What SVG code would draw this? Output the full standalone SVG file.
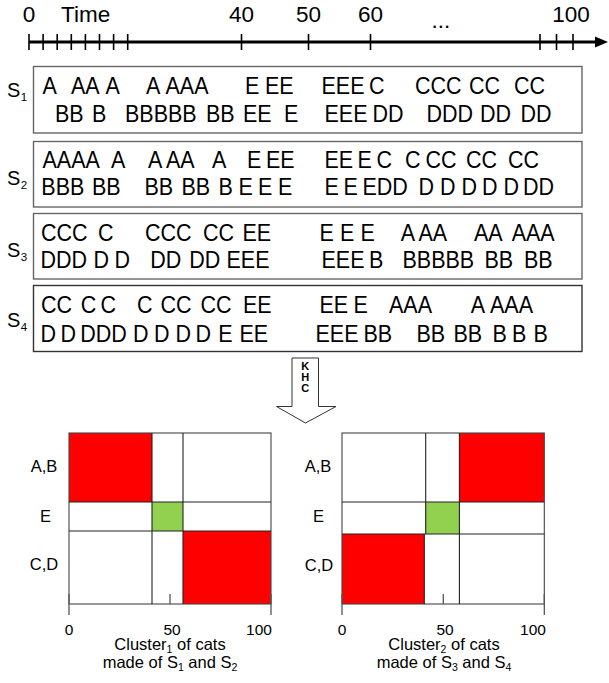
<svg xmlns="http://www.w3.org/2000/svg" width="609" height="683" viewBox="0 0 609 683">
<style>
text{font-family:"Liberation Sans",Arial,Helvetica,sans-serif;fill:#000}
.seq{font-size:21.5px}
.tl{font-size:22.5px}
.sl{font-size:20px}
.sub{font-size:11.5px}
.ml{font-size:16.5px;text-anchor:middle}
.ax{font-size:15.5px;text-anchor:middle}
.cap{font-size:16.5px;text-anchor:middle}
.box{fill:#fff;stroke:#666;stroke-width:1.4}
.tick{stroke:#000;stroke-width:1.6}
.grid{stroke:#222;stroke-width:1.1;fill:none}
.red{fill:#ff0000}
.grn{fill:#92d050}
.atk{stroke:#555;stroke-width:1.3}
</style>

<g id="timeline">
<line x1="29" y1="42" x2="598" y2="42" stroke="#000" stroke-width="2.8"/>
<polygon points="595,36.5 608,42 595,47.5" fill="#000"/>
<g class="tick">
<line x1="29" y1="34" x2="29" y2="50"/><line x1="43.1" y1="34" x2="43.1" y2="50"/>
<line x1="57.2" y1="34" x2="57.2" y2="50"/><line x1="71.3" y1="34" x2="71.3" y2="50"/>
<line x1="85.4" y1="34" x2="85.4" y2="50"/><line x1="99.5" y1="34" x2="99.5" y2="50"/>
<line x1="113.6" y1="34" x2="113.6" y2="50"/><line x1="127.7" y1="34" x2="127.7" y2="50"/>
<line x1="241.5" y1="34" x2="241.5" y2="50"/><line x1="308.5" y1="34" x2="308.5" y2="50"/>
<line x1="370.5" y1="34" x2="370.5" y2="50"/>
<line x1="540" y1="34" x2="540" y2="50"/><line x1="556.5" y1="34" x2="556.5" y2="50"/>
<line x1="573" y1="34" x2="573" y2="50"/>
</g>
<text class="tl" x="29" y="22" text-anchor="middle">0</text>
<text class="tl" x="61" y="22">Time</text>
<text class="tl" x="241.5" y="22" text-anchor="middle">40</text>
<text class="tl" x="308.5" y="22" text-anchor="middle">50</text>
<text class="tl" x="370.5" y="22" text-anchor="middle">60</text>
<text class="tl" x="441" y="28" text-anchor="middle">...</text>
<text class="tl" x="571" y="22" text-anchor="middle">100</text>
</g>

<g id="s1">
<rect class="box" x="33.5" y="66.5" width="548.5" height="66.5"/>
<text class="sl" x="7" y="97">S<tspan class="sub" dx="0.5" dy="3.5">1</tspan></text>
<text class="seq" transform="translate(0 94) scale(1 1.07)"><tspan x="42.5">A</tspan><tspan x="71">AA</tspan><tspan x="105.5">A</tspan><tspan x="146">A</tspan><tspan x="165.5">AAA</tspan><tspan x="245">E</tspan><tspan x="265">EE</tspan><tspan x="321.5">EEE</tspan><tspan x="369">C</tspan><tspan x="415">CCC</tspan><tspan x="469">CC</tspan><tspan x="514">CC</tspan></text>
<text class="seq" transform="translate(0 122) scale(1 1.07)"><tspan x="55">BB</tspan><tspan x="92">B</tspan><tspan x="125">BBBBB</tspan><tspan x="206">BB</tspan><tspan x="243">EE</tspan><tspan x="284">E</tspan><tspan x="324.5">EEE</tspan><tspan x="372.5">DD</tspan><tspan x="426.5">DDD</tspan><tspan x="480">DD</tspan><tspan x="520.5">DD</tspan></text>
</g>

<g id="s2">
<rect class="box" x="33.5" y="141.5" width="548.5" height="65.5"/>
<text class="sl" x="7" y="185">S<tspan class="sub" dx="0.5" dy="3.5">2</tspan></text>
<text class="seq" transform="translate(0 168) scale(1 1.07)"><tspan x="42.5">AAAA</tspan><tspan x="111">A</tspan><tspan x="148">A</tspan><tspan x="166">AA</tspan><tspan x="212">A</tspan><tspan x="247">E</tspan><tspan x="266">EE</tspan><tspan x="324.5">EE</tspan><tspan x="357.5">E</tspan><tspan x="376.5">C</tspan><tspan x="405">C</tspan><tspan x="425.5">CC</tspan><tspan x="466">CC</tspan><tspan x="508">CC</tspan></text>
<text class="seq" transform="translate(0 195) scale(1 1.07)"><tspan x="41.3">BBB</tspan><tspan x="91.9">BB</tspan><tspan x="144.5">BB</tspan><tspan x="181.5">BB</tspan><tspan x="218.5">B</tspan><tspan x="238.5">E</tspan><tspan x="258">E</tspan><tspan x="277.9">E</tspan><tspan x="324.5">E</tspan><tspan x="343.5">E</tspan><tspan x="362.5">EDD</tspan><tspan x="418.5">D</tspan><tspan x="440">D</tspan><tspan x="461.5">D</tspan><tspan x="482">D</tspan><tspan x="503.5">D</tspan><tspan x="523">DD</tspan></text>
</g>

<g id="s3">
<rect class="box" x="33.5" y="213.5" width="548.5" height="65.5"/>
<text class="sl" x="7" y="257">S<tspan class="sub" dx="0.5" dy="3.5">3</tspan></text>
<text class="seq" transform="translate(0 241) scale(1 1.07)"><tspan x="41">CCC</tspan><tspan x="98">C</tspan><tspan x="145">CCC</tspan><tspan x="203">CC</tspan><tspan x="242.5">EE</tspan><tspan x="319.5">E</tspan><tspan x="340">E</tspan><tspan x="360.5">E</tspan><tspan x="400.8">A</tspan><tspan x="418.5">AA</tspan><tspan x="474">AA</tspan><tspan x="511.7">AAA</tspan></text>
<text class="seq" transform="translate(0 268) scale(1 1.07)"><tspan x="40.5">DDD</tspan><tspan x="93.5">D</tspan><tspan x="114.5">D</tspan><tspan x="150.3">DD</tspan><tspan x="189.2">DD</tspan><tspan x="226.5">EEE</tspan><tspan x="321.5">EEE</tspan><tspan x="369">B</tspan><tspan x="402.5">BBBBB</tspan><tspan x="484.5">BB</tspan><tspan x="524">BB</tspan></text>
</g>

<g id="s4">
<rect class="box" x="33.5" y="285.5" width="548.5" height="66" style="stroke:#333"/>
<text class="sl" x="7" y="327">S<tspan class="sub" dx="0.5" dy="3.5">4</tspan></text>
<text class="seq" transform="translate(0 313) scale(1 1.07)"><tspan x="41">CC</tspan><tspan x="80.7">C</tspan><tspan x="100.5">C</tspan><tspan x="137">C</tspan><tspan x="160.5">CC</tspan><tspan x="200.6">CC</tspan><tspan x="243">EE</tspan><tspan x="319.5">EE</tspan><tspan x="353.5">E</tspan><tspan x="389">AAA</tspan><tspan x="470.8">A</tspan><tspan x="490">AAA</tspan></text>
<text class="seq" transform="translate(0 341.5) scale(1 1.07)"><tspan x="40.5">D</tspan><tspan x="60.5">D</tspan><tspan x="80.2">DDD</tspan><tspan x="133">D</tspan><tspan x="154.1">D</tspan><tspan x="175.5">D</tspan><tspan x="195.5">D</tspan><tspan x="218.3">E</tspan><tspan x="239.5">EE</tspan><tspan x="315.5">EEE</tspan><tspan x="363.5">BB</tspan><tspan x="416.5">BB</tspan><tspan x="453.5">BB</tspan><tspan x="492.5">B</tspan><tspan x="512">B</tspan><tspan x="533.5">B</tspan></text>
</g>

<g id="khc">
<polygon points="292,358 318.5,358 318.5,406.5 336,406.5 305.5,423 276.5,406.5 292,406.5" fill="#fff" stroke="#333" stroke-width="1"/>
<text x="305.3" y="370" font-size="11" font-weight="bold" text-anchor="middle">K</text>
<text x="305.3" y="381" font-size="11" font-weight="bold" text-anchor="middle">H</text>
<text x="305.3" y="392" font-size="11" font-weight="bold" text-anchor="middle">C</text>
</g>

<g id="cluster1">
<rect x="69" y="433" width="202" height="171" fill="#fff"/>
<rect class="red" x="69" y="433" width="83" height="69"/>
<rect class="grn" x="152" y="502" width="31" height="29"/>
<rect class="red" x="183" y="531" width="88" height="73"/>
<g class="grid">
<rect x="69" y="433" width="202" height="171" stroke="#444"/>
<line x1="69" y1="502" x2="271" y2="502"/><line x1="69" y1="531" x2="271" y2="531"/>
<line x1="152" y1="433" x2="152" y2="604"/><line x1="183" y1="433" x2="183" y2="604"/>
</g>
<line class="atk" x1="69" y1="594" x2="69" y2="615"/>
<line class="atk" x1="271" y1="594" x2="271" y2="615"/>
<line class="atk" x1="170" y1="594" x2="170" y2="604"/>
<text class="ml" x="44" y="472">A,B</text>
<text class="ml" x="45.5" y="521.5">E</text>
<text class="ml" x="44" y="570">C,D</text>
<text class="ax" x="69" y="635">0</text>
<text class="ax" x="172" y="635">50</text>
<text class="ax" x="259" y="635">100</text>
<text class="cap" x="170" y="650">Cluster<tspan font-size="10.5" dy="2.5">1</tspan><tspan dy="-2.5"> of cats</tspan></text>
<text class="cap" x="170" y="668">made of S<tspan font-size="10.5" dy="3">1</tspan><tspan dy="-3"> and S</tspan><tspan font-size="10.5" dy="3">2</tspan></text>
</g>

<g id="cluster2">
<rect x="342" y="433" width="202.3" height="171" fill="#fff"/>
<rect class="red" x="459.5" y="433" width="84.8" height="69"/>
<rect class="grn" x="425.7" y="502" width="33.8" height="32"/>
<rect class="red" x="342" y="534" width="82.3" height="70"/>
<g class="grid">
<rect x="342" y="433" width="202.3" height="171" stroke="#444"/>
<line x1="342" y1="502" x2="544.3" y2="502"/><line x1="342" y1="534" x2="544.3" y2="534"/>
<line x1="425.7" y1="433" x2="425.7" y2="534"/><line x1="424.3" y1="534" x2="424.3" y2="604"/>
<line x1="459.4" y1="433" x2="459.4" y2="604"/>
</g>
<line class="atk" x1="342" y1="594" x2="342" y2="615"/>
<line class="atk" x1="544.3" y1="594" x2="544.3" y2="615"/>
<line class="atk" x1="443.3" y1="594" x2="443.3" y2="604"/>
<text class="ml" x="318" y="472">A,B</text>
<text class="ml" x="318.5" y="521.5">E</text>
<text class="ml" x="319" y="570.5">C,D</text>
<text class="ax" x="342" y="635">0</text>
<text class="ax" x="445" y="635">50</text>
<text class="ax" x="533" y="635">100</text>
<text class="cap" x="444" y="650">Cluster<tspan font-size="10.5" dy="2.5">2</tspan><tspan dy="-2.5"> of cats</tspan></text>
<text class="cap" x="444" y="668">made of S<tspan font-size="10.5" dy="3">3</tspan><tspan dy="-3"> and S</tspan><tspan font-size="10.5" dy="3">4</tspan></text>
</g>
</svg>
